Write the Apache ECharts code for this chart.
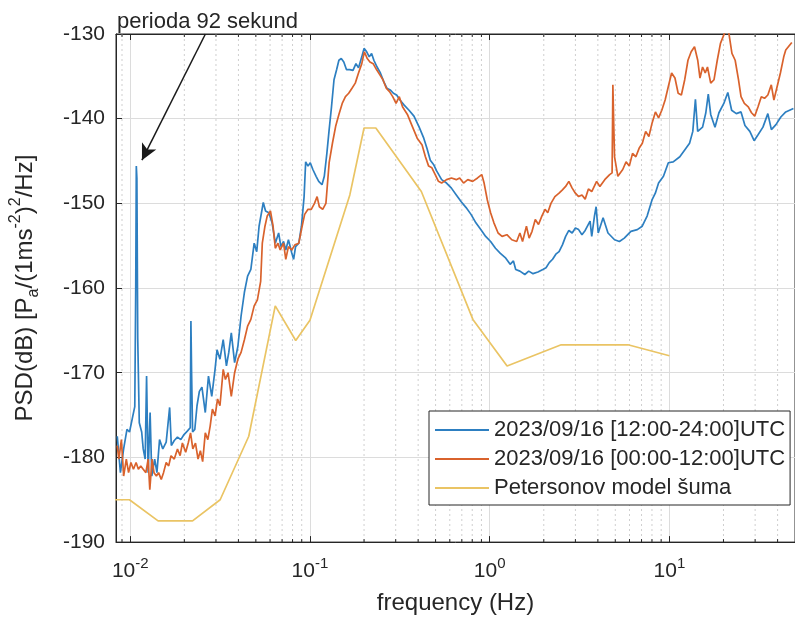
<!DOCTYPE html>
<html>
<head>
<meta charset="utf-8">
<script src="https://cdn.jsdelivr.net/npm/echarts@6/dist/echarts.min.js"></script>
<style>
  html, body { margin: 0; padding: 0; background: #fff; }
  #chart { width: 795px; height: 620px; }
</style>
</head>
<body>
<div id="chart"></div>
<script>
// [frequency Hz, PSD dB]
const psdDay = [
  [0.00847,-177.5],[0.00882,-181.8],[0.00919,-179.0],[0.00959,-176.7],[0.00991,-177.0],[0.01034,-175.1],
  [0.01060,-174.0],[0.01073,-160.0],[0.01081,-145.6],[0.01089,-147.0],[0.01101,-166.0],[0.01123,-175.9],
  [0.01158,-177.0],[0.01181,-179.0],[0.01211,-180.2],[0.01233,-170.4],[0.01258,-181.8],[0.01290,-174.7],
  [0.01318,-182.2],[0.01368,-180.2],[0.01408,-181.8],[0.01456,-177.9],[0.01518,-179.0],[0.01585,-178.2],
  [0.01657,-174.1],[0.01693,-178.6],[0.01758,-178.0],[0.01832,-177.6],[0.01912,-177.9],[0.01992,-177.3],
  [0.02077,-176.9],[0.02157,-176.5],[0.02176,-163.9],[0.02195,-170.0],[0.02223,-177.0],[0.02287,-176.7],
  [0.02353,-173.9],[0.02425,-172.2],[0.02506,-171.7],[0.02616,-174.7],[0.02725,-170.4],[0.02842,-172.8],
  [0.02965,-169.6],[0.03041,-167.3],[0.03157,-168.4],[0.03291,-166.1],[0.03430,-169.2],[0.03535,-167.6],
  [0.03651,-165.3],[0.03809,-168.8],[0.03971,-166.9],[0.04138,-163.3],[0.04318,-160.5],[0.04499,-158.6],
  [0.04690,-157.8],[0.04894,-154.7],[0.05057,-155.7],[0.05211,-152.7],[0.05500,-149.9],[0.05661,-150.9],
  [0.05906,-151.1],[0.06157,-152.3],[0.06416,-154.7],[0.06696,-153.5],[0.06893,-155.1],[0.07130,-154.5],
  [0.07338,-155.5],[0.07591,-154.3],[0.07911,-155.8],[0.08112,-156.6],[0.08318,-155.1],[0.08670,-154.7],
  [0.08969,-152.7],[0.09278,-149.2],[0.09466,-145.1],[0.09754,-145.6],[0.1004,-145.2],[0.1038,-146.0],
  [0.1082,-146.8],[0.1119,-147.4],[0.1167,-147.8],[0.1202,-146.8],[0.1242,-144.1],[0.1279,-141.3],
  [0.1318,-138.6],[0.1361,-135.4],[0.1408,-134.2],[0.1449,-133.1],[0.1494,-132.9],[0.1543,-133.3],
  [0.1596,-134.2],[0.1664,-134.2],[0.1736,-134.3],[0.1803,-133.5],[0.1863,-134.0],[0.1943,-132.7],
  [0.2000,-131.7],[0.2069,-132.1],[0.2138,-132.7],[0.2203,-132.3],[0.2268,-133.1],[0.2363,-133.9],
  [0.2466,-134.6],[0.2570,-135.6],[0.2679,-136.4],[0.2796,-136.6],[0.2913,-137.0],[0.3037,-137.2],
  [0.3169,-137.8],[0.3344,-138.4],[0.3559,-139.0],[0.3791,-139.7],[0.4036,-140.9],[0.4298,-142.3],
  [0.4477,-143.5],[0.4673,-144.9],[0.4872,-145.4],[0.5077,-146.2],[0.5405,-147.2],[0.5754,-147.6],
  [0.6126,-148.2],[0.6522,-149.0],[0.6946,-149.8],[0.7394,-150.5],[0.7873,-151.3],[0.8381,-152.3],
  [0.8924,-153.1],[0.9502,-153.9],[1.012,-154.5],[1.077,-155.3],[1.147,-155.9],[1.221,-156.4],
  [1.300,-157.2],[1.356,-156.8],[1.396,-157.8],[1.473,-158.0],[1.569,-158.4],[1.649,-158.0],
  [1.743,-158.3],[1.856,-158.1],[1.976,-157.8],[2.059,-157.6],[2.146,-157.0],[2.240,-156.6],
  [2.335,-156.0],[2.433,-155.7],[2.540,-154.9],[2.647,-153.9],[2.758,-153.2],[2.878,-153.5],
  [2.999,-152.9],[3.126,-153.1],[3.262,-153.7],[3.400,-153.2],[3.620,-152.1],[3.698,-153.9],
  [3.829,-151.5],[3.912,-150.4],[4.018,-153.5],[4.277,-151.7],[4.554,-153.5],[4.953,-154.3],
  [5.272,-154.5],[5.613,-154.1],[6.106,-153.3],[6.630,-153.1],[7.061,-152.7],[7.518,-151.5],
  [8.004,-149.6],[8.353,-148.8],[8.706,-147.6],[9.268,-146.8],[9.867,-145.2],[10.50,-145.1],
  [11.43,-144.5],[12.17,-143.7],[12.95,-142.9],[13.50,-141.5],[13.96,-137.7],[14.37,-141.5],
  [15.30,-141.0],[15.95,-139.3],[16.46,-137.1],[16.98,-139.5],[17.94,-141.0],[18.87,-139.3],
  [20.09,-138.2],[21.14,-136.9],[22.20,-139.0],[23.58,-139.4],[25.04,-139.2],[26.33,-140.8],
  [28.03,-141.5],[29.62,-142.6],[31.14,-141.9],[33.16,-141.0],[35.31,-139.4],[36.94,-141.3],
  [39.17,-140.7],[41.71,-139.8],[44.41,-139.2],[49.0,-138.8]
];

const psdNight = [
  [0.00847,-178.6],[0.00864,-180.2],[0.00893,-177.9],[0.00919,-182.2],[0.00951,-180.2],[0.00979,-181.8],
  [0.01009,-180.6],[0.01042,-181.4],[0.01078,-180.6],[0.01110,-181.4],[0.01144,-181.0],[0.01181,-181.4],
  [0.01222,-181.8],[0.01258,-180.2],[0.01285,-183.8],[0.01323,-180.2],[0.01356,-181.8],[0.01398,-182.2],
  [0.01438,-181.8],[0.01488,-182.6],[0.01532,-181.8],[0.01585,-180.6],[0.01637,-181.0],[0.01686,-179.8],
  [0.01758,-180.2],[0.01832,-179.0],[0.01895,-179.8],[0.01951,-178.3],[0.02035,-179.4],[0.02102,-178.3],
  [0.02166,-177.1],[0.02230,-179.0],[0.02307,-178.3],[0.02384,-180.2],[0.02457,-179.2],[0.02529,-180.5],
  [0.02616,-177.1],[0.02702,-177.9],[0.02785,-176.3],[0.02866,-174.3],[0.02965,-175.1],[0.03062,-173.1],
  [0.03157,-173.9],[0.03291,-169.6],[0.03386,-170.8],[0.03503,-170.0],[0.03651,-172.8],[0.03809,-170.0],
  [0.03971,-168.4],[0.04138,-167.6],[0.04318,-166.1],[0.04499,-164.5],[0.04690,-163.7],[0.04894,-162.1],
  [0.05100,-161.4],[0.05318,-159.2],[0.05431,-154.7],[0.05619,-152.7],[0.05783,-151.5],[0.06028,-150.9],
  [0.06235,-152.7],[0.06416,-155.3],[0.06637,-154.7],[0.06832,-155.5],[0.07130,-154.7],[0.07338,-156.6],
  [0.07591,-155.1],[0.07911,-155.5],[0.08246,-154.9],[0.08670,-154.7],[0.08969,-153.1],[0.09345,-151.3],
  [0.09754,-150.7],[0.1017,-150.7],[0.1060,-150.0],[0.1096,-149.2],[0.1128,-150.4],[0.1177,-150.7],
  [0.1227,-150.0],[0.1279,-145.2],[0.1334,-142.9],[0.1390,-140.9],[0.1449,-139.5],[0.1512,-138.2],
  [0.1576,-137.4],[0.1643,-137.0],[0.1714,-136.4],[0.1787,-135.8],[0.1863,-134.6],[0.1943,-133.5],
  [0.2008,-132.1],[0.2084,-132.9],[0.2157,-133.3],[0.2248,-133.5],[0.2346,-134.2],[0.2445,-134.8],
  [0.2548,-135.4],[0.2659,-136.4],[0.2772,-136.8],[0.2888,-137.4],[0.3014,-138.2],[0.3141,-137.4],
  [0.3274,-138.6],[0.3485,-139.5],[0.3711,-140.9],[0.3951,-142.3],[0.4207,-143.1],[0.4390,-144.5],
  [0.4575,-145.6],[0.4770,-145.8],[0.4978,-146.6],[0.5188,-147.4],[0.5405,-147.6],[0.5754,-147.2],
  [0.6126,-147.0],[0.6522,-147.2],[0.6808,-147.0],[0.7156,-147.6],[0.7553,-147.2],[0.8043,-147.4],
  [0.8563,-147.0],[0.9035,-146.6],[0.9312,-147.6],[0.9705,-149.6],[1.012,-151.1],[1.056,-152.3],
  [1.114,-153.5],[1.172,-153.9],[1.247,-153.7],[1.328,-154.3],[1.414,-154.5],[1.473,-153.5],
  [1.524,-154.5],[1.602,-152.7],[1.658,-154.1],[1.721,-153.3],[1.794,-151.9],[1.870,-152.5],
  [1.951,-151.5],[2.033,-150.7],[2.104,-151.1],[2.193,-150.0],[2.306,-149.2],[2.433,-148.8],
  [2.540,-148.4],[2.647,-148.0],[2.758,-147.4],[2.878,-148.2],[2.999,-148.8],[3.126,-149.2],
  [3.262,-149.0],[3.400,-149.5],[3.544,-148.3],[3.698,-148.6],[3.937,-147.4],[4.104,-148.0],
  [4.369,-147.2],[4.652,-146.6],[4.800,-146.4],[4.848,-136.0],[4.900,-140.5],[4.953,-144.5],
  [5.167,-146.8],[5.501,-146.0],[5.741,-145.1],[5.984,-145.6],[6.236,-144.1],[6.508,-144.5],
  [6.784,-143.5],[7.071,-142.9],[7.378,-141.5],[7.690,-142.1],[8.015,-140.5],[8.363,-139.2],
  [8.706,-139.9],[9.074,-139.0],[9.469,-137.8],[9.867,-136.2],[10.29,-134.6],[10.74,-135.2],
  [11.19,-137.0],[11.66,-137.2],[12.17,-135.4],[12.69,-133.1],[13.22,-132.1],[13.80,-131.5],
  [14.38,-133.1],[14.80,-135.2],[15.30,-133.9],[15.83,-134.6],[16.29,-133.9],[16.98,-135.8],
  [17.72,-135.4],[18.47,-133.1],[19.24,-131.1],[20.09,-130.1],[20.68,-129.5],[21.39,-129.8],
  [22.29,-132.3],[23.23,-133.1],[24.24,-135.4],[25.04,-137.4],[26.13,-138.2],[27.48,-138.6],
  [28.64,-139.3],[29.85,-139.7],[31.14,-138.6],[32.47,-137.4],[33.84,-137.6],[35.31,-137.2],
  [36.90,-136.0],[38.16,-137.8],[39.78,-136.2],[41.47,-134.6],[43.28,-132.7],[44.41,-131.9],
  [48.0,-131.0]
];

// Peterson low noise model breakpoints
const nlnmFreq = [0.0065, 0.0099, 0.01429, 0.02222, 0.03165, 0.04566, 0.0641, 0.08333, 0.1,
                  0.1667, 0.2, 0.2326, 0.4167, 0.8065, 1.25, 2.5, 5.882, 10];
const nlnmPsd  = [-185.0, -185.0, -187.5, -187.5, -185.0, -177.5, -162.1, -166.2, -163.8,
                  -149.0, -141.1, -141.1, -148.6, -163.7, -169.2, -166.7, -166.7, -168.0];

const seriesNames = ['2023/09/16 [12:00-24:00]UTC', '2023/09/16 [00:00-12:00]UTC', 'Petersonov model šuma'];
const minorTicks = [0.009, 0.02, 0.03, 0.04, 0.05, 0.06, 0.07, 0.08, 0.09,
                    0.2, 0.3, 0.4, 0.5, 0.6, 0.7, 0.8, 0.9,
                    2, 3, 4, 5, 6, 7, 8, 9, 20, 30, 40];
const arrowFrom = [0.0262, -130];
const arrowTo = [0.01162, -144.9];

const FONT = '"Liberation Sans", Arial, Helvetica, sans-serif';
const INK = '#262626';

const chart = echarts.init(document.getElementById('chart'));

function logLabel(v) {
  const e = Math.log10(v);
  if (Math.abs(e - Math.round(e)) > 1e-6) return '';
  return '10{sup|' + Math.round(e) + '}';
}

const xBase = {
  type: 'log',
  logBase: 10,
  min: 1 / 120,
  max: 50,
  axisLine: { show: true, lineStyle: { color: INK, width: 1 } },
  axisTick: { show: true, inside: true, length: 6, lineStyle: { color: INK } }
};

chart.setOption({
  animation: false,
  backgroundColor: '#fff',
  textStyle: { fontFamily: FONT },
  title: {
    text: 'perioda 92 sekund',
    left: 112,
    top: 6,
    textStyle: { fontSize: 22, fontWeight: 'normal', color: INK, fontFamily: FONT }
  },
  grid: {
    left: 111, top: 34, right: -9, bottom: 77,
    show: true, borderColor: INK, borderWidth: 1, backgroundColor: '#fff'
  },
  legend: {
    data: seriesNames,
    orient: 'vertical',
    left: 429,
    top: 411,
    padding: [8, 5, 6, 6],
    itemGap: 7,
    itemWidth: 54,
    itemHeight: 2,
    icon: 'rect',
    borderColor: INK,
    borderWidth: 1,
    backgroundColor: '#fff',
    textStyle: { fontSize: 22, color: INK, fontFamily: FONT }
  },
  xAxis: [
    Object.assign({}, xBase, {
      position: 'bottom',
      name: 'frequency (Hz)',
      nameLocation: 'middle',
      nameGap: 48,
      nameTextStyle: { fontSize: 24, color: INK, fontFamily: FONT },
      splitLine: { show: true, lineStyle: { color: '#dcdcdc', width: 1 } },
      axisLabel: {
        margin: 14,
        formatter: logLabel,
        color: INK,
        fontSize: 21,
        lineHeight: 30,
        fontFamily: FONT,
        showMinLabel: false,
        showMaxLabel: false,
        rich: { sup: { fontSize: 15, lineHeight: 15, verticalAlign: 'top', color: INK, fontFamily: FONT } }
      }
    }),
    Object.assign({}, xBase, {
      position: 'top',
      axisLabel: { show: false },
      splitLine: { show: false }
    })
  ],
  yAxis: {
    type: 'value',
    min: -190,
    max: -130,
    interval: 10,
    name: 'PSD(dB) [P{sub|a}/(1ms{sup|-2}){sup|2}/Hz]',
    nameLocation: 'middle',
    nameGap: 74,
    nameTextStyle: {
      fontSize: 24, color: INK, fontFamily: FONT, lineHeight: 34,
      rich: {
        sup: { fontSize: 16, lineHeight: 16, verticalAlign: 'top', color: INK, fontFamily: FONT },
        sub: { fontSize: 16, lineHeight: 16, verticalAlign: 'bottom', color: INK, fontFamily: FONT }
      }
    },
    axisLine: { show: true, lineStyle: { color: INK, width: 1 } },
    axisTick: { show: true, inside: true, length: 6, lineStyle: { color: INK } },
    axisLabel: { margin: 11, color: INK, fontSize: 21, fontFamily: FONT },
    splitLine: { show: true, lineStyle: { color: '#dcdcdc', width: 1 } }
  },
  series: [
    {
      type: 'custom',
      silent: true,
      z: 1,
      xAxisIndex: 0,
      yAxisIndex: 0,
      data: minorTicks.map(v => [v, -160]),
      renderItem: function (params, api) {
        const x = api.coord([api.value(0), -160])[0];
        const cs = params.coordSys;
        const top = cs.y, bottom = cs.y + cs.height;
        return {
          type: 'group',
          children: [
            { type: 'line', shape: { x1: x, y1: top, x2: x, y2: bottom },
              style: { stroke: '#cfcfcf', lineWidth: 1, lineDash: [2, 3] } },
            { type: 'line', shape: { x1: x, y1: bottom, x2: x, y2: bottom - 3 },
              style: { stroke: INK, lineWidth: 1 } },
            { type: 'line', shape: { x1: x, y1: top, x2: x, y2: top + 3 },
              style: { stroke: INK, lineWidth: 1 } }
          ]
        };
      }
    },
    {
      name: seriesNames[0],
      type: 'line',
      data: psdDay,
      symbol: 'none',
      color: '#2d7fc1',
      lineStyle: { width: 1.7 },
      markLine: {
        silent: true,
        symbol: ['none', 'arrow'],
        symbolSize: [12, 16],
        label: { show: false },
        lineStyle: { color: '#1a1a1a', width: 1.5, type: 'solid' },
        data: [[{ coord: arrowFrom }, { coord: arrowTo }]]
      }
    },
    {
      name: seriesNames[1],
      type: 'line',
      data: psdNight,
      symbol: 'none',
      color: '#d9622c',
      lineStyle: { width: 1.7 }
    },
    {
      name: seriesNames[2],
      type: 'line',
      data: nlnmFreq.map((f, i) => [f, nlnmPsd[i]]),
      symbol: 'none',
      color: '#eac464',
      lineStyle: { width: 1.7 }
    }
  ]
});
</script>
</body>
</html>
